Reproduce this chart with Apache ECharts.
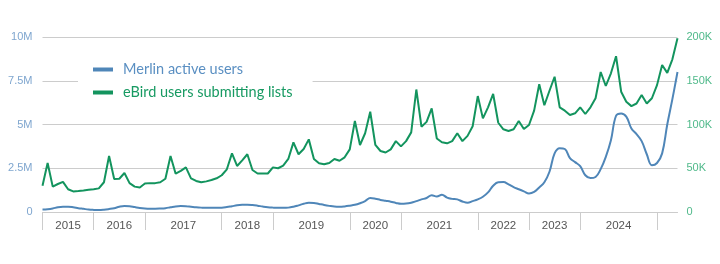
<!DOCTYPE html>
<html>
<head>
<meta charset="utf-8">
<script src="https://cdn.jsdelivr.net/npm/echarts@6/dist/echarts.min.js"></script>
<style>
  html, body { margin: 0; padding: 0; background: #fff; }
  #chart { width: 720px; height: 264px; }
</style>
</head>
<body>
<div id="chart"></div>
<script>
// monthly points, index 0 .. 124
const merlinUsers = [ // millions
  0.15, 0.16, 0.2, 0.27, 0.3, 0.3, 0.27, 0.22, 0.18, 0.14,
  0.12, 0.11, 0.13, 0.17, 0.22, 0.3, 0.34, 0.33, 0.28, 0.23,
  0.2, 0.19, 0.19, 0.2, 0.22, 0.27, 0.32, 0.34, 0.33, 0.3,
  0.27, 0.25, 0.24, 0.24, 0.25, 0.25, 0.28, 0.33, 0.38, 0.41,
  0.42, 0.4, 0.36, 0.31, 0.27, 0.25, 0.24, 0.24, 0.25, 0.3,
  0.38, 0.47, 0.53, 0.52, 0.46, 0.4, 0.35, 0.31, 0.3, 0.32,
  0.36, 0.41, 0.5, 0.62, 0.8, 0.76, 0.69, 0.64, 0.59, 0.52,
  0.47, 0.48, 0.53, 0.62, 0.72, 0.8, 0.96, 0.88, 0.99, 0.82,
  0.75, 0.72, 0.6, 0.53, 0.62, 0.72, 0.87, 1.12, 1.5, 1.7,
  1.71, 1.58, 1.42, 1.3, 1.18, 1.06, 1.15, 1.4, 1.7, 2.3,
  3.35, 3.65, 3.6, 3.08, 2.85, 2.62, 2.1, 1.94, 2.0, 2.45,
  3.15, 4.1, 5.5, 5.63, 5.45, 4.77, 4.45, 4.05, 3.3, 2.67,
  2.8, 3.35, 5.0, 6.45, 8.0
];
const ebirdUsers = [ // thousands
  30, 56, 29, 32, 34.5, 26, 23.5, 24, 24.6, 25.3,
  26, 27, 34, 64, 37.7, 38, 44.6, 33, 29, 28,
  32.5, 33, 33, 34, 38, 64, 43.8, 47, 51, 38.5,
  35.5, 34, 35, 36.5, 38.5, 42, 48.8, 67, 52.6, 59,
  66, 48, 44, 44, 44, 51, 50, 53, 60.6, 79.6,
  66, 72, 83, 60.6, 55.6, 54.5, 56, 60.6, 58.6, 62.5,
  71.6, 104, 76.6, 90, 114.6, 76.6, 69.7, 68, 71.6, 81,
  75, 81, 91, 140, 97.5, 103, 118.5, 84, 79.7, 78.5,
  81, 90, 81, 87, 98, 132.5, 107, 119.6, 134.9, 102,
  94.5, 92.6, 94.5, 104, 94.9, 99.4, 115.8, 146, 122, 138.6,
  154.6, 119.6, 115.8, 110.9, 112.8, 119.6, 112, 119.6, 130, 160,
  144, 158.5, 178, 137.5, 126, 121, 124, 133.7, 124, 130,
  145, 168, 159, 174.5, 198.5
];
const yearLabels = ['2015', '2016', '2017', '2018', '2019', '2020', '2021', '2022', '2023', '2024'];
const yearBreaks = [0, 10, 20, 35, 45, 60, 70, 85, 95, 105, 120];
const leftTicks = ['0', '2.5M', '5M', '7.5M', '10M'];
const rightTicks = ['0', '50K', '100K', '150K', '200K'];

const blue = '#4f86b8';
const green = '#13945e';

const yearMids = yearLabels.map((y, i) => (yearBreaks[i] + yearBreaks[i + 1]) / 2);

let myChart = echarts.init(document.getElementById('chart'));
myChart.setOption({
  animation: false,
  grid: { left: 42.5, right: 42.5, top: 37, bottom: 52 },
  legend: {
    orient: 'vertical',
    left: 78,
    top: 58,
    backgroundColor: '#fff',
    padding: [4, 20, 4, 15],
    itemWidth: 20,
    itemHeight: 4,
    itemGap: 8,
    icon: 'rect',
    textStyle: { fontFamily: 'Lato', fontSize: 14.5, padding: [0, 0, 0, 5] },
    data: [
      { name: 'Merlin active users', textStyle: { color: '#5a8fc2' } },
      { name: 'eBird users submitting lists', textStyle: { color: '#179a62' } }
    ]
  },
  xAxis: {
    type: 'value',
    min: 0,
    max: 124,
    splitLine: { show: false },
    axisLine: { lineStyle: { color: '#cccccc' } },
    axisTick: {
      customValues: yearBreaks,
      length: 18,
      lineStyle: { color: '#cccccc' }
    },
    axisLabel: {
      customValues: yearMids,
      margin: 8,
      color: '#555',
      fontFamily: 'Liberation Sans',
      fontSize: 11.5,
      formatter: v => yearLabels[yearMids.indexOf(v)] || ''
    }
  },
  yAxis: [
    {
      type: 'value',
      min: 0,
      max: 10,
      interval: 2.5,
      axisLine: { show: false },
      axisTick: { show: false },
      splitLine: { lineStyle: { color: '#cccccc' } },
      axisLabel: {
        margin: 10,
        color: '#7fa6cf',
        fontFamily: 'Liberation Sans',
        fontSize: 11,
        formatter: (v, i) => leftTicks[i]
      }
    },
    {
      type: 'value',
      min: 0,
      max: 200,
      interval: 50,
      axisLine: { show: false },
      axisTick: { show: false },
      splitLine: { show: false },
      axisLabel: {
        margin: 9,
        color: '#4fb98a',
        fontFamily: 'Liberation Sans',
        fontSize: 11,
        formatter: (v, i) => rightTicks[i]
      }
    }
  ],
  series: [
    {
      name: 'Merlin active users',
      type: 'line',
      yAxisIndex: 0,
      smooth: 0.4,
      showSymbol: false,
      color: blue,
      lineStyle: { width: 2, color: blue },
      data: merlinUsers.map((v, i) => [i, v]),
      z: 3
    },
    {
      name: 'eBird users submitting lists',
      type: 'line',
      yAxisIndex: 1,
      showSymbol: false,
      color: green,
      lineStyle: { width: 2, color: green },
      data: ebirdUsers.map((v, i) => [i, v]),
      z: 2
    }
  ]
});
</script>
</body>
</html>
